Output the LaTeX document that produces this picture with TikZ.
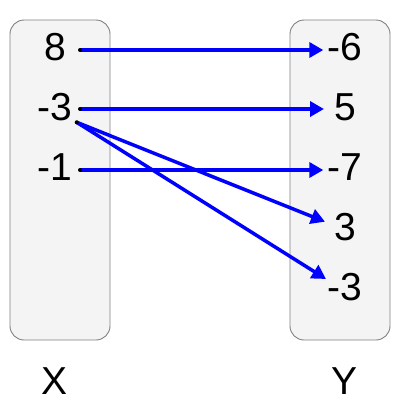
\documentclass[tikz,border=0pt]{standalone}
\usepackage{fontspec}
\setmainfont{Liberation Sans}
\usetikzlibrary{arrows.meta}
\definecolor{boxfill}{HTML}{F4F4F4}
\definecolor{boxline}{HTML}{808080}
\definecolor{arrblue}{HTML}{0000FF}
\begin{document}
\begin{tikzpicture}[x=1pt,y=-1pt,
  setbox/.style={draw=boxline,line width=0.9pt,fill=boxfill,rounded corners=14pt,
    minimum width=100pt,minimum height=320pt,inner sep=0pt},
  num/.style={anchor=base,inner sep=0pt,font=\fontsize{39}{46}\selectfont},
  mapline/.style={draw=arrblue,line width=3.5pt,-{Triangle[length=14pt,width=15pt]}},
  startdot/.style={fill=black,draw=none,circle,inner sep=0pt,minimum size=4pt}]
\useasboundingbox (0,0) rectangle (400,400);
\node[setbox] (X) at (60,180) {};
\node[setbox] (Y) at (340,180) {};
% left values
\node[num] (l8) at (55,60) {8};
\node[num] (lm3) at (55,120) {-3};
\node[num] (lm1) at (55,180.5) {-1};
% right values
\node[num] (r6) at (345,60) {-6};
\node[num] (r5) at (345,120) {5};
\node[num] (r7) at (345,180) {-7};
\node[num] (r3) at (345,240) {3};
\node[num] (rm3) at (345,300) {-3};
% set labels
\node[num] (lx) at (55,394) {X};
\node[num] (ly) at (345,394) {Y};
% connector ends
\coordinate (s8) at (80,50);
\coordinate (sm3a) at (80,109);
\coordinate (sm3b) at (76.7,122.3);
\coordinate (sm1) at (80,170);
\coordinate (e6) at (323.3,50);
\coordinate (e5) at (324,109);
\coordinate (e7) at (323.3,170);
\coordinate (e3) at (325,221.7);
\coordinate (em3) at (326,279);
\draw[mapline] (s8) -- (e6);
\draw[mapline] (sm3a) -- (e5);
\draw[mapline] (sm1) -- (e7);
\draw[mapline] (sm3b) -- (e3);
\draw[mapline] (sm3b) -- (em3);
\node[startdot] (d8) at (s8) {};
\node[startdot] (dm3a) at (sm3a) {};
\node[startdot] (dm3b) at (sm3b) {};
\node[startdot] (dm1) at (sm1) {};
\end{tikzpicture}
\end{document}
